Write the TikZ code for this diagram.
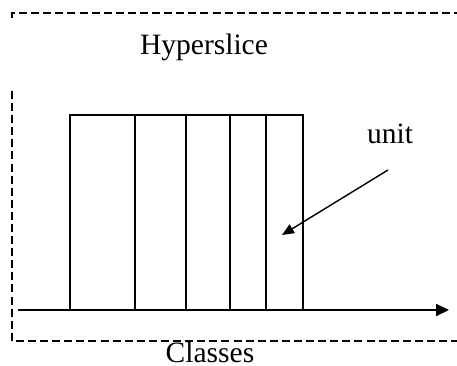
\documentclass[tikz,border=0pt]{standalone}
\usepackage{fontspec}
\setmainfont{Liberation Serif}
\usetikzlibrary{arrows.meta}
\tikzset{
  label text/.style={font=\fontsize{21}{25}\selectfont, inner sep=0pt, anchor=base},
  frame line/.style={line width=1.4pt, dash pattern=on 5.7pt off 2.9pt},
  unit line/.style={line width=1pt},
}

\begin{document}
\begin{tikzpicture}
      \useasboundingbox (0,0) rectangle (11.425,9.15);

      % dashed frame, open on the right
      \draw[frame line] (0.3,8.7) -- (0.3,8.825) -- (11.425,8.825);
      \draw[frame line] (0.3,6.875) -- (0.3,0.625) -- (11.425,0.625);

      \node[label text] (hyper) at (5.1,7.775) {Hyperslice};
      \node[label text] (classes) at (5.25,0.09) {Classes};
      \node[label text] (unit) at (9.75,5.55) {unit};

      % units of the hyperslice
      \foreach \xa/\xb in {1.75/3.375, 3.375/4.65, 4.65/5.75, 5.75/6.65, 6.65/7.575}
        \draw[unit line] (\xa,1.4) rectangle (\xb,6.275);

      % class axis
      \coordinate (axisStart) at (0.45,1.4);
      \coordinate (axisEnd) at (11.225,1.4);
      \draw[unit line, -{Triangle[length=0.32cm, width=0.3cm]}] (axisStart) -- (axisEnd);

      \coordinate (unitTail) at (9.7,4.9);
      \coordinate (unitTip) at (7.05,3.275);
      \draw[unit line, -{Triangle[length=0.3cm, width=0.25cm]}] (unitTail) -- (unitTip);
    \end{tikzpicture}
\end{document}
